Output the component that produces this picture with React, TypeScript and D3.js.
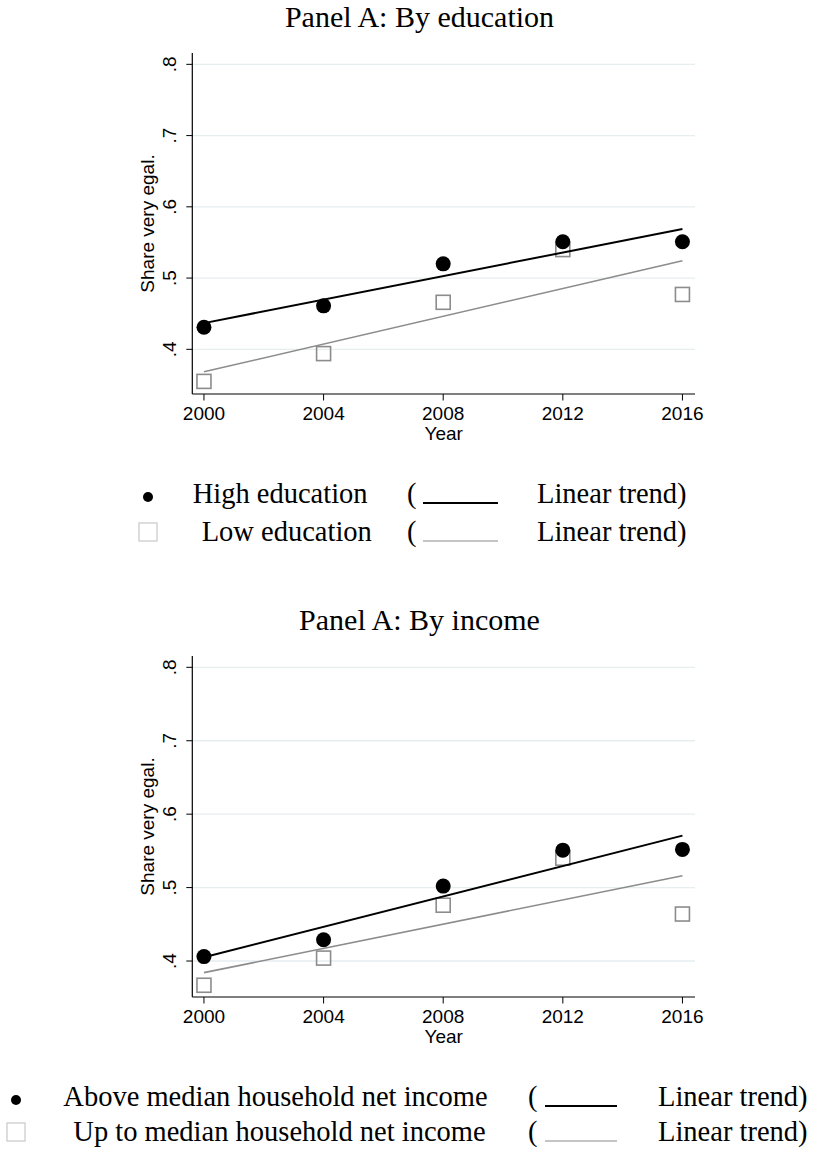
import React from "react";
import * as d3 from "d3";

const years = [2000, 2004, 2008, 2012, 2016];
const eduHigh = [0.431, 0.461, 0.52, 0.551, 0.551];
const eduLow = [0.355, 0.394, 0.466, 0.54, 0.477];
const incHigh = [0.406, 0.429, 0.502, 0.551, 0.552];
const incLow = [0.367, 0.404, 0.476, 0.54, 0.464];
const yTicks = [0.4, 0.5, 0.6, 0.7, 0.8];
const xTicks = [2000, 2004, 2008, 2012, 2016];

const SANS = "'Liberation Sans', Arial, sans-serif";
const SERIF = "'Liberation Serif', 'Times New Roman', serif";

function fit(xs: number[], ys: number[]) {
  const mx = d3.mean(xs)!;
  const my = d3.mean(ys)!;
  let num = 0, den = 0;
  xs.forEach((x, i) => { num += (x - mx) * (ys[i] - my); den += (x - mx) ** 2; });
  const b = num / den;
  return (x: number) => my + b * (x - mx);
}

type PanelProps = {
  dy: number;
  title: string;
  high: number[];
  low: number[];
  yDomain: [number, number];
  labHigh: string;
  labLow: string;
  leg: { sym: number; hx: number; lx: number; paren: number; l0: number; l1: number; lin: number; r2: number };
};

function Panel({ dy, title, high, low, yDomain, labHigh, labLow, leg }: PanelProps) {
  const top = 53, bottom = 394, left = 192.3, right = 695;
  const x = d3.scaleLinear().domain([1999.61, 2016.42]).range([left, right]);
  const y = d3.scaleLinear().domain(yDomain).range([bottom, top]);
  const fh = fit(years, high);
  const fl = fit(years, low);
  const line = d3.line<number>().x((d) => x(d)).y((d) => y(0));
  const trend = (f: (v: number) => number) =>
    d3.line<number>().x((d) => x(d)).y((d) => y(f(d)))([2000, 2016]) || "";
  void line;
  const r1 = 503, r2 = leg.r2;
  return (
    <g transform={`translate(0,${dy})`}>
      <text x={419.5} y={27.3} textAnchor="middle" fontFamily={SERIF} fontSize={30}>{title}</text>
      {yTicks.map((t) => (
        <g key={t}>
          <line x1={left} x2={right} y1={y(t)} y2={y(t)} stroke="#e6eef0" strokeWidth={1.3} />
          <line x1={left - 6} x2={left} y1={y(t)} y2={y(t)} stroke="#000" strokeWidth={1} />
          <text transform={`translate(176,${y(t)}) rotate(-90)`} textAnchor="middle" fontFamily={SANS} fontSize={19}>
            {d3.format(".1f")(t).replace(/^0/, "")}
          </text>
        </g>
      ))}
      <line x1={left} x2={left} y1={top} y2={bottom} stroke="#000" strokeWidth={1.2} />
      <line x1={left} x2={right} y1={bottom} y2={bottom} stroke="#000" strokeWidth={1.2} />
      {xTicks.map((t) => (
        <g key={t}>
          <line x1={x(t)} x2={x(t)} y1={bottom} y2={bottom + 6.5} stroke="#000" strokeWidth={1} />
          <text x={x(t)} y={420} textAnchor="middle" fontFamily={SANS} fontSize={19}>{t}</text>
        </g>
      ))}
      <text x={(left + right) / 2} y={440} textAnchor="middle" fontFamily={SANS} fontSize={19}>Year</text>
      <text transform={`translate(154,${(top + bottom) / 2}) rotate(-90)`} textAnchor="middle" fontFamily={SANS} fontSize={19}>
        Share very egal.
      </text>
      {years.map((yr, i) => (
        <rect key={"s" + yr} x={x(yr) - 7} y={y(low[i]) - 7} width={14} height={14} fill="none" stroke="#8c8c8c" strokeWidth={1.6} />
      ))}
      {years.map((yr, i) => (
        <circle key={"c" + yr} cx={x(yr)} cy={y(high[i])} r={7.5} fill="#000" />
      ))}
      <path d={trend(fl)} stroke="#8c8c8c" strokeWidth={1.6} fill="none" />
      <path d={trend(fh)} stroke="#000" strokeWidth={2} fill="none" />

      <circle cx={leg.sym} cy={r1 - 6} r={5} fill="#000" />
      <rect x={leg.sym - 9} y={r2 - 18} width={18} height={18} fill="none" stroke="#cccccc" strokeWidth={1.3} />
      <text x={leg.hx} y={r1} fontFamily={SERIF} fontSize={28.5}>{labHigh}</text>
      <text x={leg.lx} y={r2} fontFamily={SERIF} fontSize={28.5}>{labLow}</text>
      <text x={leg.paren} y={r1} fontFamily={SERIF} fontSize={28.5}>(</text>
      <text x={leg.paren} y={r2} fontFamily={SERIF} fontSize={28.5}>(</text>
      <line x1={leg.l0} x2={leg.l1} y1={r1} y2={r1} stroke="#000" strokeWidth={2.2} />
      <line x1={leg.l0} x2={leg.l1} y1={r2} y2={r2} stroke="#c4c4c4" strokeWidth={2.2} />
      <text x={leg.lin} y={r1} fontFamily={SERIF} fontSize={28.5}>Linear trend)</text>
      <text x={leg.lin} y={r2} fontFamily={SERIF} fontSize={28.5}>Linear trend)</text>
    </g>
  );
}

export default function App() {
  return (
    <svg width={814} height={1153} style={{ position: "absolute", left: 0, top: 0, background: "#fff" }}>
      <rect width={814} height={1153} fill="#fff" />
      <Panel
        dy={0}
        title="Panel A: By education"
        high={eduHigh}
        low={eduLow}
        yDomain={[0.3373, 0.8159]}
        labHigh="High education"
        labLow="Low education"
        leg={{ sym: 148, hx: 192.7, lx: 201.7, paren: 407, l0: 423, l1: 498, lin: 537, r2: 541 }}
      />
      <Panel
        dy={603}
        title="Panel A: By income"
        high={incHigh}
        low={incLow}
        yDomain={[0.351, 0.8154]}
        labHigh="Above median household net income"
        labLow="Up to median household net income"
        leg={{ sym: 16, hx: 63.3, lx: 73.3, paren: 528, l0: 545, l1: 617, lin: 658, r2: 538 }}
      />
    </svg>
  );
}
